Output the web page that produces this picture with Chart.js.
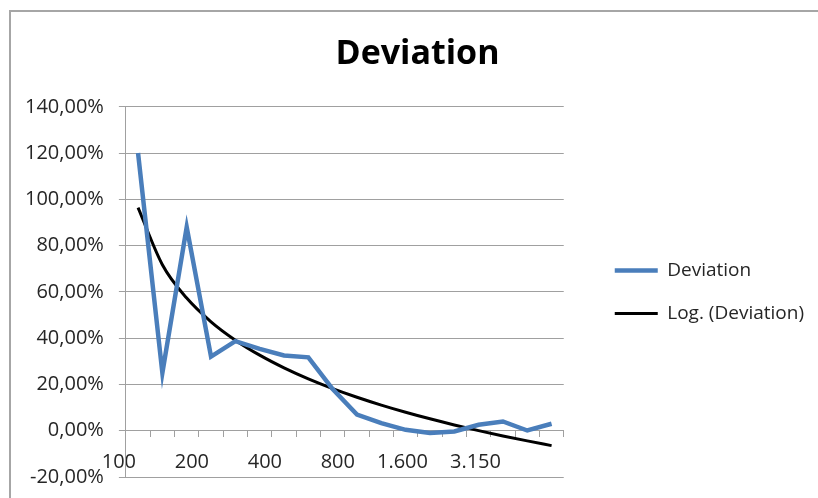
<!DOCTYPE html>
<html>
<head>
<meta charset="utf-8">
<script src="https://cdn.jsdelivr.net/npm/chart.js@4/dist/chart.umd.min.js"></script>
<style>
  html, body { margin: 0; padding: 0; background: #fff; overflow: hidden; }
  #frame { position: absolute; left: 9px; top: 10px; width: 900px; height: 600px; border: 2px solid #a6a6a6; }
  #myChart { position: absolute; left: 0; top: 0; }
</style>
</head>
<body>
<div id="frame"></div>
<canvas id="myChart" width="818" height="498"></canvas>
<script>
// frequenze (categorie) e deviazione, in %
const categories = ["100", "125", "160", "200", "250", "315", "400", "500", "630",
  "800", "1.000", "1.250", "1.600", "2.000", "2.500", "3.150", "4.000", "5.000"]
const deviation = [120, 25, 88, 32, 38.7, 35.4, 32.5, 31.7, 18, 7,
  3.3, 0.4, -1, -0.3, 2.6, 4, 0.1, 3]
const shownLabels = ["100", "200", "400", "800", "1.600", "3.150"]
const yMin = -20
const yMax = 140
const yStep = 20

// linea di tendenza logaritmica (come Excel): y = a*ln(x) + b, x = 1..n
const lnX = deviation.map((v, i) => Math.log(i + 1))
const n = deviation.length
const mx = lnX.reduce((s, v) => s + v, 0) / n
const my = deviation.reduce((s, v) => s + v, 0) / n
let sxy = 0, sxx = 0
for (let i = 0; i < n; i++) {
  sxy += (lnX[i] - mx) * (deviation[i] - my)
  sxx += (lnX[i] - mx) * (lnX[i] - mx)
}
const a = sxy / sxx
const b = my - a * mx
const trend = lnX.map(l => a * l + b)

const FONT = "'Open Sans', sans-serif"
const GRID = "#a0a0a0"
const TEXT = "#262626"

// sposta legenda e titolo a destra senza toccare l'area del grafico
const shiftBoxes = {
  id: "shiftBoxes",
  afterLayout(chart) {
    chart.legend.left += 27
    chart.legend.right += 27
    chart.titleBlock.left += 19
    chart.titleBlock.right += 19
  }
}

const chart = new Chart("myChart", {
  type: "line",
  data: {
    labels: categories,
    datasets: [{
        label: "Deviation",
        data: deviation,
        borderColor: "#4a7ebb",
        backgroundColor: "#4a7ebb",
        borderWidth: 4.5,
        pointRadius: 0,
        tension: 0
      }, {
        label: "Log. (Deviation)",
        data: trend,
        borderColor: "#000",
        backgroundColor: "#000",
        borderWidth: 3,
        pointRadius: 0,
        cubicInterpolationMode: "monotone"
      }
    ]
  },
  options: {
    responsive: false,
    animation: false,
    devicePixelRatio: 1,
    layout: { padding: { left: 10, right: 31, top: 0, bottom: 21 } },
    plugins: {
      title: {
        display: true,
        text: "Deviation",
        color: "#000",
        font: { family: FONT, size: 34, weight: "bold" },
        padding: { top: 34, bottom: 32 }
      },
      legend: {
        position: "right",
        fullSize: false,
        maxWidth: 320,
        labels: {
          usePointStyle: true,
          pointStyle: "line",
          pointStyleWidth: 43,
          padding: 24,
          color: TEXT,
          font: { family: FONT, size: 19 }
        }
      },
      tooltip: { enabled: false }
    },
    scales: {
      x: {
        position: { y: 0 },
        offset: true,
        afterFit(scale) { scale.height = 0 },
        grid: { display: true, drawOnChartArea: false, tickLength: 6, color: GRID, offset: true },
        border: { color: GRID, width: 1 },
        ticks: {
          autoSkip: false,
          maxRotation: 0,
          align: "end",
          labelOffset: -2,
          padding: 14,
          color: TEXT,
          font: { family: FONT, size: 20 },
          callback: function (v, i) {
            return shownLabels.includes(categories[i]) ? categories[i] : ""
          }
        }
      },
      y: {
        min: yMin,
        max: yMax,
        grid: { color: GRID, tickLength: 7, lineWidth: 1 },
        border: { color: GRID, width: 1 },
        ticks: {
          stepSize: yStep,
          padding: 15,
          color: TEXT,
          font: { family: FONT, size: 20, lineHeight: 0.6 },
          callback: v => v.toFixed(2).replace(".", ",") + "%"
        }
      }
    }
  },
  plugins: [shiftBoxes]
})
</script>
</body>
</html>
